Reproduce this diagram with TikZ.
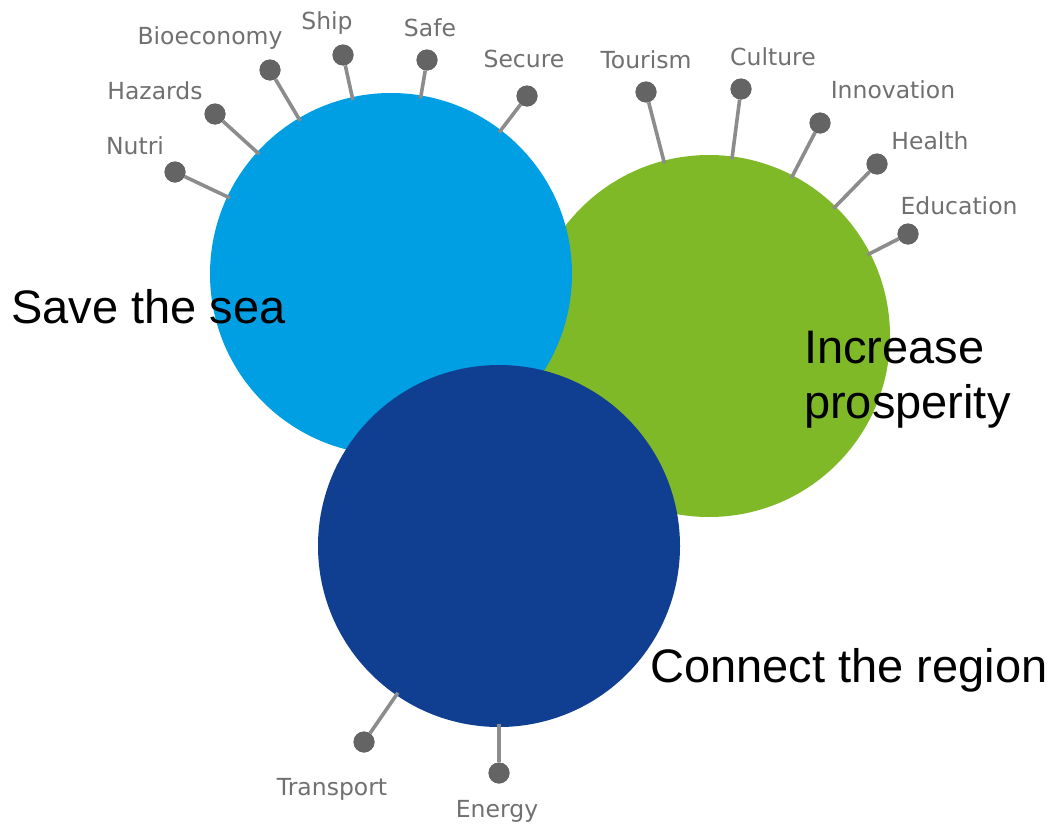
\documentclass[tikz,border=0pt]{standalone}
\usepackage{fontspec}
\setmainfont{Liberation Sans}
\newfontfamily\lblfont{DejaVu Sans}
\definecolor{seablue}{RGB}{0,159,227}
\definecolor{prosgreen}{RGB}{127,185,40}
\definecolor{regblue}{RGB}{16,63,146}
\definecolor{dotgray}{RGB}{100,100,100}
\definecolor{stemgray}{RGB}{140,140,140}
\definecolor{lblgray}{RGB}{112,112,112}
\tikzset{
  bigcirc/.style={circle, minimum size=362pt, inner sep=0pt, draw=none},
  pin/.style={circle, fill=dotgray, minimum size=21pt, inner sep=0pt, draw=none},
  stem/.style={draw=stemgray, line width=3.6pt, shorten >=-3pt},
  lbl/.style={anchor=base, inner sep=0pt, text=lblgray, font=\lblfont\fontsize{23.5}{28}\selectfont},
  mainlbl/.style={anchor=base west, inner sep=0pt, text=black, font=\fontsize{47}{54}\selectfont}
}
\begin{document}
\begin{tikzpicture}[x=1pt,y=-1pt]
\useasboundingbox (0,0) rectangle (1056,827);
% circles
\node[bigcirc, fill=prosgreen] (green) at (709,336) {};
\node[bigcirc, fill=seablue] (sea) at (391,274) {};
\node[bigcirc, fill=regblue] (region) at (499,546) {};
% pins: light blue
\node[pin] (pNutri) at (175,172) {};
\node[pin] (pHaz) at (215,114) {};
\node[pin] (pBio) at (270,70) {};
\node[pin] (pShip) at (343,55) {};
\node[pin] (pSafe) at (427,60) {};
\node[pin] (pSec) at (527,96) {};
% pins: green
\node[pin] (pTour) at (646,92) {};
\node[pin] (pCult) at (741,89) {};
\node[pin] (pInno) at (820,123) {};
\node[pin] (pHealth) at (877,164) {};
\node[pin] (pEdu) at (908,234) {};
% pins: dark blue
\node[pin] (pTrans) at (364,742) {};
\node[pin] (pEnergy) at (499,773) {};
% stems
\foreach \p in {pNutri,pHaz,pBio,pShip,pSafe,pSec}{\draw[stem] (\p) -- (sea);}
\foreach \p in {pTour,pCult,pInno,pHealth,pEdu}{\draw[stem] (\p) -- (green);}
\foreach \p in {pTrans,pEnergy}{\draw[stem] (\p) -- (region);}
% redraw pins above stems
\foreach \p in {pNutri,pHaz,pBio,pShip,pSafe,pSec,pTour,pCult,pInno,pHealth,pEdu,pTrans,pEnergy}{\fill[dotgray] (\p.center) circle (10.5pt);}
% small labels
\node[lbl] (lNutri) at (135,154) {Nutri};
\node[lbl] (lHaz) at (155,99) {Hazards};
\node[lbl] (lBio) at (210,44) {Bioeconomy};
\node[lbl] (lShip) at (327,29) {Ship};
\node[lbl] (lSafe) at (430,36) {Safe};
\node[lbl] (lSec) at (524,67) {Secure};
\node[lbl] (lTour) at (646,68) {Tourism};
\node[lbl] (lCult) at (773,65) {Culture};
\node[lbl] (lInno) at (893,98) {Innovation};
\node[lbl] (lHealth) at (930,149) {Health};
\node[lbl] (lEdu) at (959,214) {Education};
\node[lbl] (lTrans) at (332,795) {Transport};
\node[lbl] (lEnergy) at (497,817) {Energy};
% main labels
\node[mainlbl] (tSea) at (11,323) {Save the sea};
\node[mainlbl] (tInc) at (804,363) {Increase};
\node[mainlbl] (tPros) at (804,418) {prosperity};
\node[mainlbl] (tReg) at (650,682) {Connect the region};
\end{tikzpicture}
\end{document}
